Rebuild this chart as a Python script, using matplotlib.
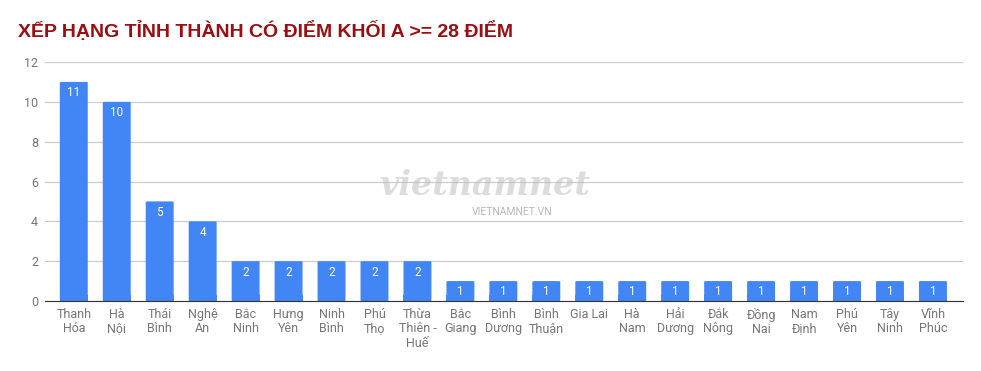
import numpy as np
import matplotlib.pyplot as plt
from matplotlib.patches import FancyBboxPatch

plt.rcParams['font.family'] = ['Roboto', 'DejaVu Sans']

provinces = ['Thanh\nHóa', 'Hà\nNội', 'Thái\nBình', 'Nghệ\nAn', 'Bắc\nNinh',
             'Hưng\nYên', 'Ninh\nBình', 'Phú\nThọ', 'Thừa\nThiên -\nHuế',
             'Bắc\nGiang', 'Bình\nDương', 'Bình\nThuận', 'Gia Lai', 'Hà\nNam',
             'Hải\nDương', 'Đắk\nNông', 'Đồng\nNai', 'Nam\nĐịnh', 'Phú\nYên',
             'Tây\nNinh', 'Vĩnh\nPhúc']
counts = [11, 10, 5, 4, 2, 2, 2, 2, 2, 1, 1, 1, 1, 1, 1, 1, 1, 1, 1, 1, 1]
yticks = [0, 2, 4, 6, 8, 10, 12]

fig = plt.figure(figsize=(9.81, 3.71), dpi=100)
ax = fig.add_axes([45 / 981, 1 - 301 / 371, 918 / 981, 239 / 371])

x = np.arange(len(counts))
bw = 0.65
for xi, v in zip(x, counts):
    ax.add_patch(FancyBboxPatch((xi - bw / 2, 0), bw, v,
                                boxstyle='round,pad=0,rounding_size=0.06',
                                mutation_aspect=0.5,
                                facecolor='#4285f4', edgecolor='none', zorder=3))
    ax.text(xi, v - 0.22, str(v), ha='center', va='top', color='white',
            fontsize=8.5, zorder=4)
# square off the bottom of bars
ax.bar(x, [min(v, 0.3) for v in counts], width=bw, color='#4285f4', zorder=3)

ax.set_xlim(-0.67, len(counts) - 0.3)
ax.set_ylim(0, 12)
ax.set_yticks(yticks)
ax.set_xticks(x)
ax.set_xticklabels(provinces, fontsize=9, color='#757575', linespacing=1.15, va='top')
ax.tick_params(axis='x', length=0, pad=5)
ax.tick_params(axis='y', length=0, pad=5, labelsize=9, labelcolor='#757575')
ax.grid(axis='y', color='#cccccc', linewidth=0.9, zorder=0)
for name in ['top', 'right', 'left']:
    ax.spines[name].set_visible(False)
ax.spines['bottom'].set_color('#333333')
ax.spines['bottom'].set_zorder(5)

# watermark
fig.text(0.494, 0.50, 'vietnamnet', fontsize=24, style='italic', fontweight='bold',
         color='#bbbbbb', alpha=0.5, ha='center', va='center',
         family=['DejaVu Serif'])
fig.text(0.522, 0.428, 'VIETNAMNET.VN', fontsize=7.5, color='#999999', alpha=0.7,
         ha='center', va='center')

fig.text(18 / 981, 1 - 31 / 371, 'XẾP HẠNG TỈNH THÀNH CÓ ĐIỂM KHỐI A >= 28 ĐIỂM',
         fontsize=14, fontweight='bold', color='#9b0d10', ha='left', va='center',
         family=['Liberation Sans', 'DejaVu Sans'])

fig.savefig('out.png', dpi=100)
